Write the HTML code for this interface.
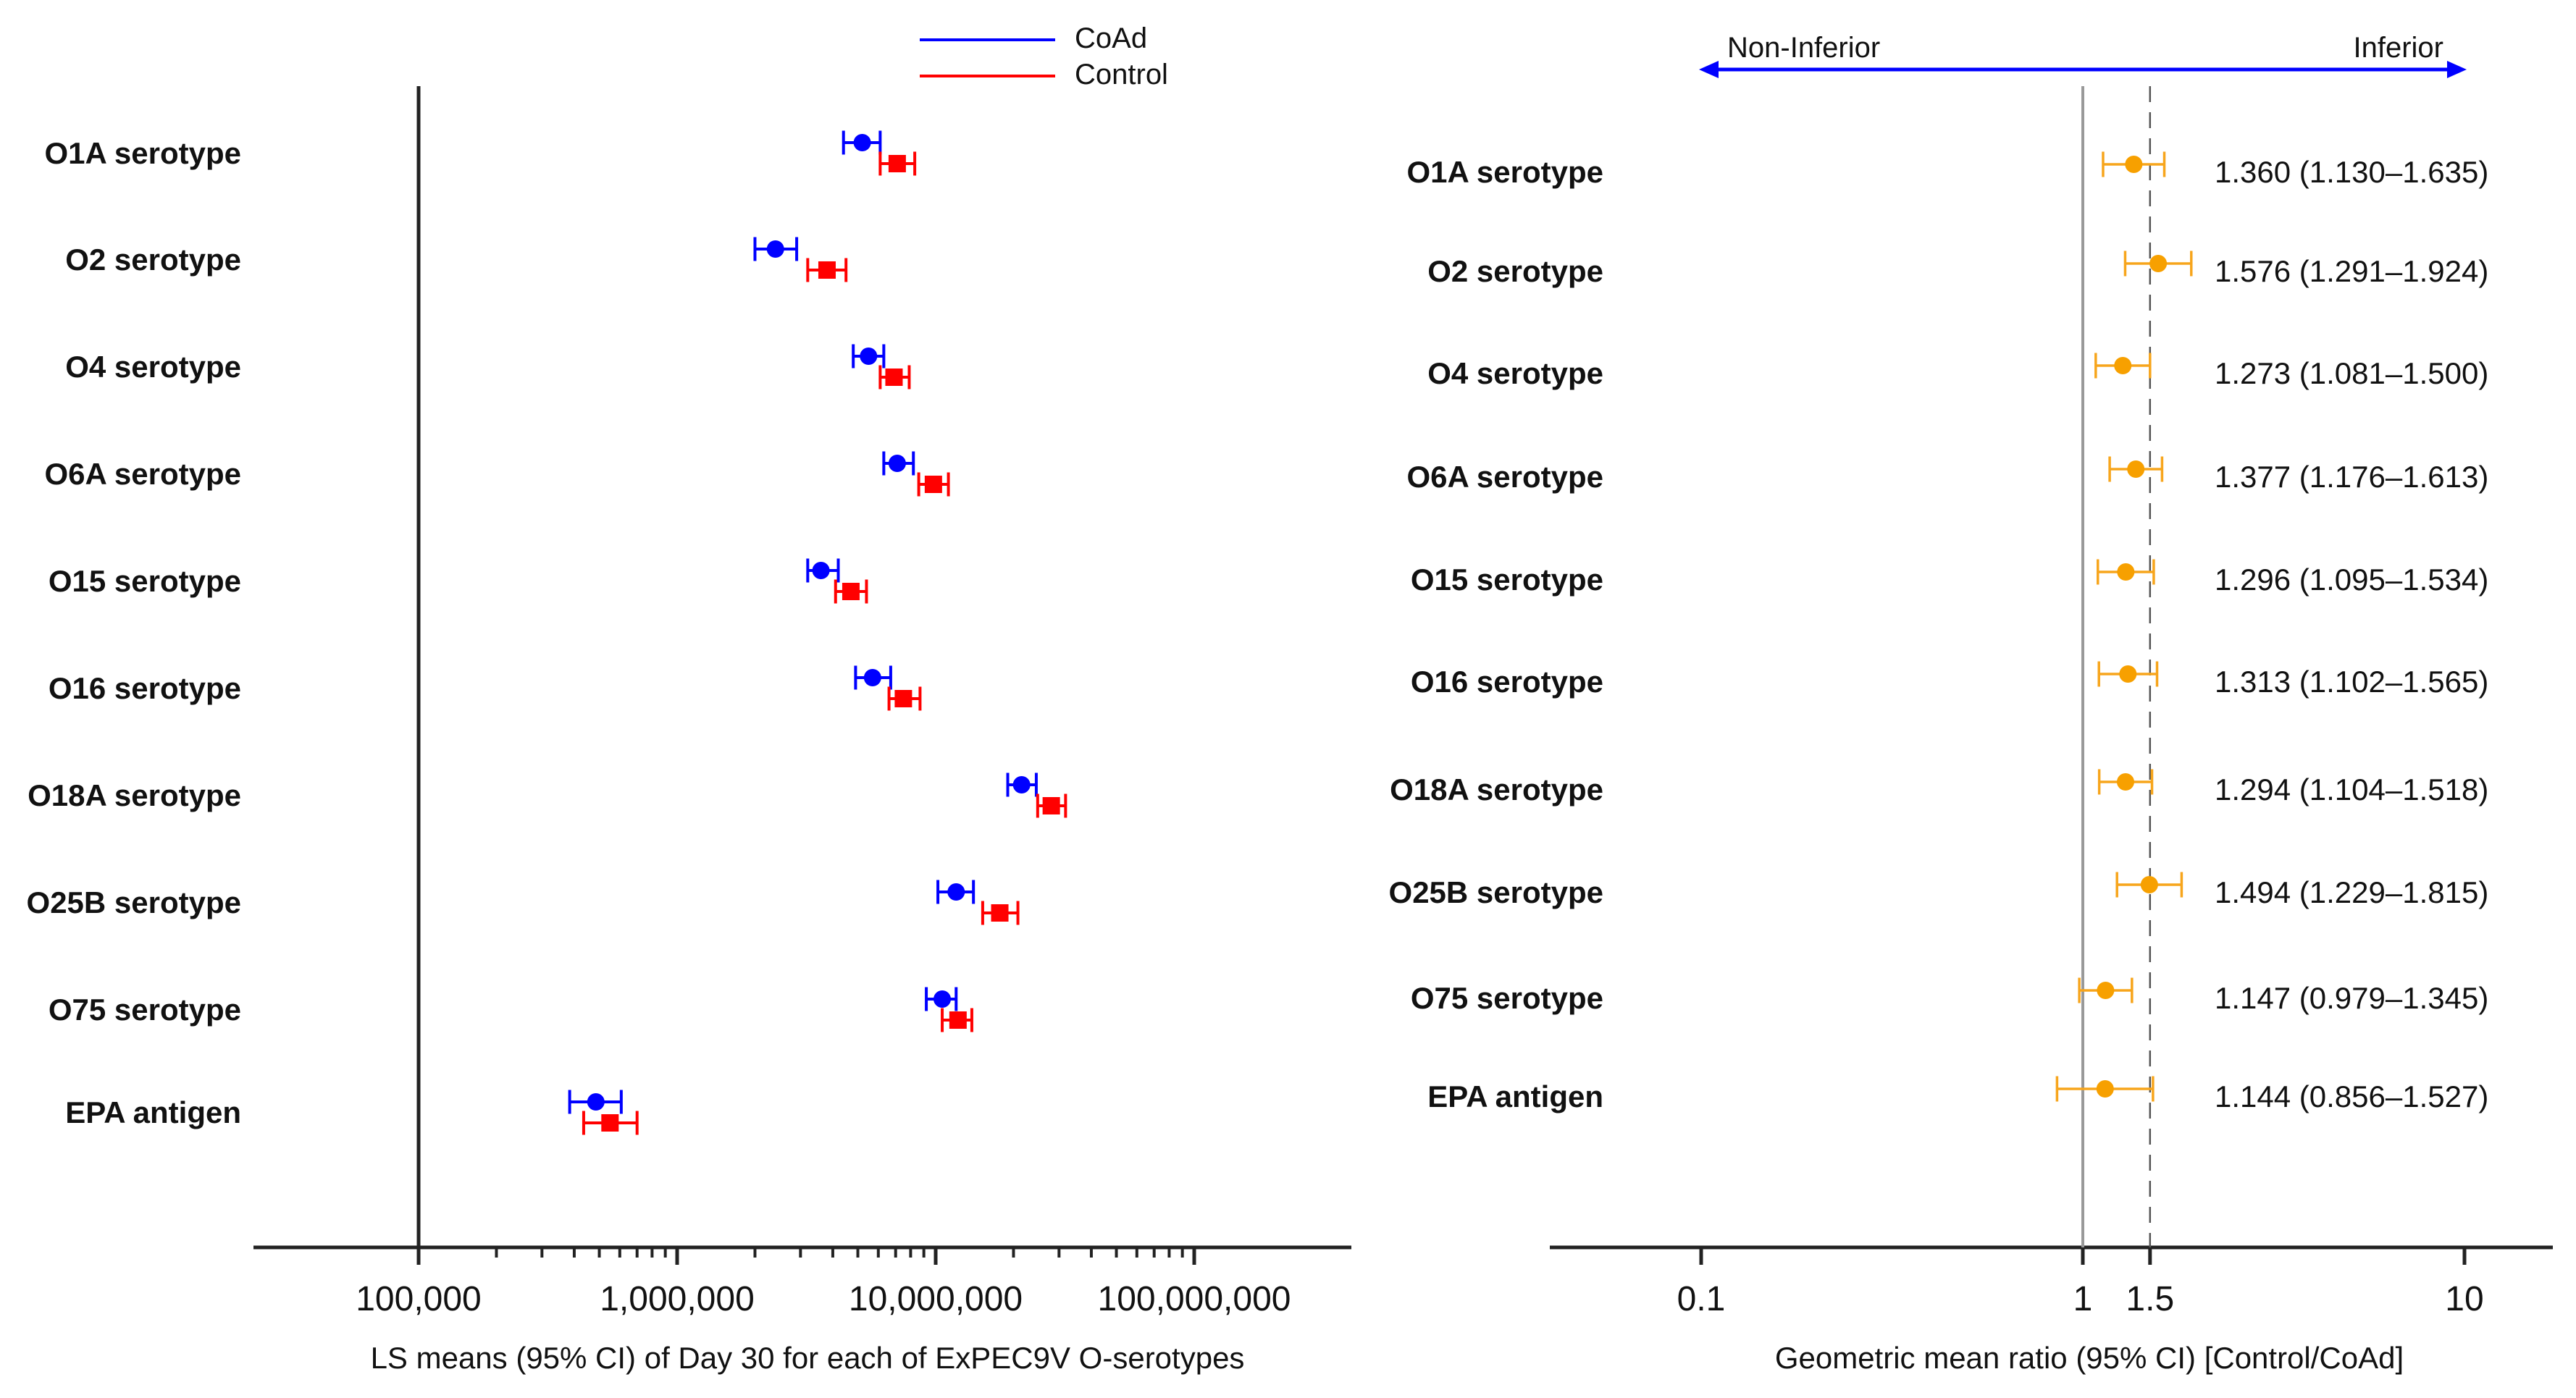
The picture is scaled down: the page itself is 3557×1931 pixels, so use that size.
<!DOCTYPE html>
<html><head><meta charset="utf-8"><style>
html,body{margin:0;padding:0;background:#fff;}
svg{display:block;font-family:"Liberation Sans",Arial,sans-serif;}
</style></head><body>
<svg id="chart" width="3557" height="1931" viewBox="0 0 3557 1931" xmlns="http://www.w3.org/2000/svg">
<g id="left"></g>
<g id="right"></g>
</svg>
<script>
const categories = ["O1A serotype","O2 serotype","O4 serotype","O6A serotype","O15 serotype","O16 serotype","O18A serotype","O25B serotype","O75 serotype","EPA antigen"];
const coadMean = [5.2e6,2.4e6,5.5e6,7.1e6,3.6e6,5.7e6,21.5e6,12e6,10.6e6,485000];
const coadLow  = [4.4e6,2.0e6,4.8e6,6.3e6,3.2e6,4.9e6,19e6,10.2e6,9.2e6,384000];
const coadHigh = [6.1e6,2.9e6,6.3e6,8.2e6,4.2e6,6.7e6,24.5e6,14e6,12e6,608000];
const ctrlMean = [7.1e6,3.8e6,6.9e6,9.8e6,4.7e6,7.5e6,28e6,17.7e6,12.2e6,550000];
const ctrlLow  = [6.1e6,3.2e6,6.1e6,8.6e6,4.1e6,6.6e6,24.8e6,15.2e6,10.6e6,435000];
const ctrlHigh = [8.3e6,4.5e6,7.9e6,11.2e6,5.4e6,8.7e6,31.8e6,20.8e6,13.8e6,700000];
const leftTicks = [1e5,1e6,1e7,1e8];
const leftTickLabels = ["100,000","1,000,000","10,000,000","100,000,000"];
const gmr     = [1.360,1.576,1.273,1.377,1.296,1.313,1.294,1.494,1.147,1.144];
const gmrLow  = [1.130,1.291,1.081,1.176,1.095,1.102,1.104,1.229,0.979,0.856];
const gmrHigh = [1.635,1.924,1.500,1.613,1.534,1.565,1.518,1.815,1.345,1.527];
const rightTicks = [0.1,1,1.5,10];
const rightTickLabels = ["0.1","1","1.5","10"];

const NS="http://www.w3.org/2000/svg";
function mk(parent,tag,attrs,text){const e=document.createElementNS(NS,tag);for(const k in attrs)e.setAttribute(k,attrs[k]);if(text!==undefined)e.textContent=text;parent.appendChild(e);return e;}
const L=document.getElementById('left'), R=document.getElementById('right');
const xL=v=>578+(Math.log10(v)-5)*357;
const xR=v=>2876+Math.log10(v)*527;
const rowL=[211,358,506,654,802,950,1098,1246,1394,1536];
const rowR=[237,374,515,658,800,941,1090,1232,1378,1514];
const axisY=1723;

let e;
e=mk(L,'line',{x1:578,y1:119,x2:578,y2:axisY,stroke:'#222','stroke-width':5});


e=mk(L,'line',{x1:350,y1:axisY,x2:1866,y2:axisY,stroke:'#222','stroke-width':5});


for(let d=5;d<8;d++){for(let m=2;m<=9;m++){const x=xL(m*Math.pow(10,d));
 e=mk(L,'line',{x1:x,y1:axisY,x2:x,y2:axisY+14,stroke:'#222','stroke-width':4});
 
 }}
leftTicks.forEach((t,i)=>{const x=xL(t);
 e=mk(L,'line',{x1:x,y1:axisY,x2:x,y2:axisY+24,stroke:'#222','stroke-width':5});
 
 
 e=mk(L,'text',{x:x,y:1810,'font-size':48,'text-anchor':'middle',fill:'#111'},leftTickLabels[i]);
 
 });
e=mk(L,'text',{x:1115,y:1890,'font-size':42,'text-anchor':'middle',fill:'#111'},"LS means (95% CI) of Day 30 for each of ExPEC9V O-serotypes");



e=mk(L,'line',{x1:1270,y1:55,x2:1457,y2:55,stroke:'#0000ff','stroke-width':4});


e=mk(L,'text',{x:1484,y:66,'font-size':40,fill:'#111'},"CoAd");


e=mk(L,'line',{x1:1270,y1:105,x2:1457,y2:105,stroke:'#ff0000','stroke-width':4});


e=mk(L,'text',{x:1484,y:116,'font-size':40,fill:'#111'},"Control");



function ci(parent,x1,x2,y,col,w,h,name){
 const g=mk(parent,'g',{});
 
 
 mk(g,'line',{x1:x1,y1:y,x2:x2,y2:y,stroke:col,'stroke-width':w});
 mk(g,'line',{x1:x1,y1:y-h/2,x2:x1,y2:y+h/2,stroke:col,'stroke-width':w});
 mk(g,'line',{x1:x2,y1:y-h/2,x2:x2,y2:y+h/2,stroke:col,'stroke-width':w});
 return g;}

categories.forEach((c,i)=>{const y=rowL[i];
 e=mk(L,'text',{x:333,y:y+15,'font-size':42,'font-weight':'bold','text-anchor':'end',fill:'#111'},c);
 
 
 const yb=y-14, yr=y+15;
 ci(L,xL(coadLow[i]),xL(coadHigh[i]),yb,'#0000ff',4,33,'coad-ci');
 e=mk(L,'circle',{cx:xL(coadMean[i]),cy:yb,r:12,fill:'#0000ff'});
 
 
 ci(L,xL(ctrlLow[i]),xL(ctrlHigh[i]),yr,'#ff0000',4,33,'control-ci');
 e=mk(L,'rect',{x:xL(ctrlMean[i])-12,y:yr-12,width:24,height:24,fill:'#ff0000'});
 
 
});

e=mk(R,'line',{x1:2140,y1:axisY,x2:3525,y2:axisY,stroke:'#222','stroke-width':5});


e=mk(R,'line',{x1:xR(1),y1:119,x2:xR(1),y2:axisY,stroke:'#999','stroke-width':4});


e=mk(R,'line',{x1:xR(1.5),y1:119,x2:xR(1.5),y2:axisY,stroke:'#555','stroke-width':2.5,'stroke-dasharray':'22 14'});


rightTicks.forEach((t,i)=>{const x=xR(t);
 e=mk(R,'line',{x1:x,y1:axisY,x2:x,y2:axisY+24,stroke:'#222','stroke-width':5});
 
 
 e=mk(R,'text',{x:x,y:1810,'font-size':48,'text-anchor':'middle',fill:'#111'},rightTickLabels[i]);
 
 });
e=mk(R,'text',{x:2885,y:1890,'font-size':42,'text-anchor':'middle',fill:'#111'},"Geometric mean ratio (95% CI) [Control/CoAd]");



const ag=mk(R,'g',{});


mk(ag,'line',{x1:2368,y1:96,x2:3384,y2:96,stroke:'#0000ff','stroke-width':5});
mk(ag,'polygon',{points:'2346,96 2373,84 2373,108',fill:'#0000ff'});
mk(ag,'polygon',{points:'3406,96 3379,84 3379,108',fill:'#0000ff'});
e=mk(R,'text',{x:2385,y:79,'font-size':40,fill:'#111'},"Non-Inferior");


e=mk(R,'text',{x:3374,y:79,'font-size':40,'text-anchor':'end',fill:'#111'},"Inferior");



categories.forEach((c,i)=>{const y=rowR[i];
 e=mk(R,'text',{x:2214,y:y+15,'font-size':42,'font-weight':'bold','text-anchor':'end',fill:'#111'},c);
 
 
 const yp=y-10;
 ci(R,xR(gmrLow[i]),xR(gmrHigh[i]),yp,'#f7a51c',3.5,35,'gmr-ci');
 e=mk(R,'circle',{cx:xR(gmr[i]),cy:yp,r:12,fill:'#f7a000'});
 
 
 e=mk(R,'text',{x:3058,y:y+15,'font-size':42,fill:'#111'},gmr[i].toFixed(3)+" ("+gmrLow[i].toFixed(3)+"\u2013"+gmrHigh[i].toFixed(3)+")");
 
 
});
</script>
</body></html>
